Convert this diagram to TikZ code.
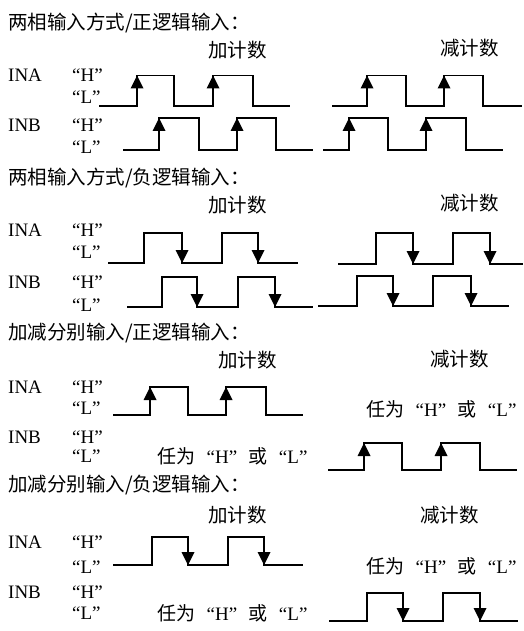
\documentclass[tikz,border=0pt]{standalone}
\usepackage{fontspec}
\setmainfont{Liberation Serif}
\newfontfamily\cjk{Noto Sans CJK SC}
\newcommand{\sqwv}[8]{\draw[wave] (#1,#7) -- (#2,#7) -- (#2,#8) -- (#3,#8) -- (#3,#7) -- (#4,#7) -- (#4,#8) -- (#5,#8) -- (#5,#7) -- (#6,#7);}
\newcommand{\anyHL}{{\cjk 任为}\hspace{0.6em}“H”\hspace{0.6em}{\cjk 或}\hspace{0.6em}“L”}
\begin{document}
\begin{tikzpicture}[x=1bp,y=-1bp,
  lbl/.style={anchor=west,inner sep=0pt,font=\fontsize{19bp}{22bp}\selectfont},
  zh/.style={anchor=west,inner sep=0pt,font=\fontsize{19.5bp}{22bp}\selectfont\cjk},
  wave/.style={line width=1.3bp,line join=miter},
  upa/.pic={\fill (0,0) -- (-6.5,13) -- (6.5,13) -- cycle;},
  dna/.pic={\fill (0,0) -- (-6.5,-13) -- (6.5,-13) -- cycle;}]
\useasboundingbox (0,0) rectangle (524,631);
% ---------- section 1 ----------
\node[zh] (t1) at (8,22.5) {两相输入方式/正逻辑输入：};
\node[zh] (p1) at (208,50) {加计数};
\node[zh] (m1) at (440,48) {减计数};
\node[lbl] (a1) at (8,75) {INA};
\node[lbl] (a1h) at (72,75) {“H”};
\node[lbl] (a1l) at (72,97) {“L”};
\node[lbl] (b1) at (8,125) {INB};
\node[lbl] (b1h) at (72,125) {“H”};
\node[lbl] (b1l) at (72,147) {“L”};
\sqwv{99}{137}{174}{213}{253}{290}{106}{75.5}
\pic at (137,75.5) {upa}; \pic at (213,75.5) {upa};
\sqwv{123}{159}{199}{237}{276}{313}{150}{118}
\pic at (159,118) {upa}; \pic at (237,118) {upa};
\sqwv{332}{367}{406}{444}{483}{522}{106}{75.5}
\pic at (367,75.5) {upa}; \pic at (444,75.5) {upa};
\sqwv{323}{349}{388}{426}{466}{503}{150}{118}
\pic at (349,118) {upa}; \pic at (426,118) {upa};
% ---------- section 2 ----------
\node[zh] (t2) at (8,178) {两相输入方式/负逻辑输入：};
\node[zh] (p2) at (208,205) {加计数};
\node[zh] (m2) at (440,203) {减计数};
\node[lbl] (a2) at (8,230) {INA};
\node[lbl] (a2h) at (72,230) {“H”};
\node[lbl] (a2l) at (72,252) {“L”};
\node[lbl] (b2) at (8,282) {INB};
\node[lbl] (b2h) at (72,282) {“H”};
\node[lbl] (b2l) at (72,305) {“L”};
\sqwv{108}{144}{182}{222}{258}{298}{263}{233}
\pic at (182,263) {dna}; \pic at (258,263) {dna};
\sqwv{127}{162}{197}{238}{275}{313}{307}{277}
\pic at (197,307) {dna}; \pic at (275,307) {dna};
\sqwv{338}{376}{413}{453}{490}{523}{264}{233}
\pic at (413,264) {dna}; \pic at (490,264) {dna};
\sqwv{318}{357}{393}{433}{471}{509}{306}{276}
\pic at (393,306) {dna}; \pic at (471,306) {dna};
% ---------- section 3 ----------
\node[zh] (t3) at (8,333) {加减分别输入/正逻辑输入：};
\node[zh] (p3) at (218,360) {加计数};
\node[zh] (m3) at (430,359) {减计数};
\node[lbl] (a3) at (8,387) {INA};
\node[lbl] (a3h) at (72,387) {“H”};
\node[lbl] (a3l) at (72,408) {“L”};
\node[lbl] (b3) at (8,437) {INB};
\node[lbl] (b3h) at (72,437) {“H”};
\node[lbl] (b3l) at (72,456) {“L”};
\sqwv{113}{150}{188}{226}{266}{303}{415}{387}
\pic at (150,387) {upa}; \pic at (226,387) {upa};
\node[lbl] (x3a) at (366,409) {\anyHL};
\node[lbl] (x3b) at (157,456) {\anyHL};
\sqwv{328}{364}{402}{441}{480}{517}{470}{443}
\pic at (364,443) {upa}; \pic at (441,443) {upa};
% ---------- section 4 ----------
\node[zh] (t4) at (8,485) {加减分别输入/负逻辑输入：};
\node[zh] (p4) at (208,515) {加计数};
\node[zh] (m4) at (420,515) {减计数};
\node[lbl] (a4) at (8,542) {INA};
\node[lbl] (a4h) at (72,542) {“H”};
\node[lbl] (a4l) at (72,567) {“L”};
\node[lbl] (b4) at (8,592) {INB};
\node[lbl] (b4h) at (72,592) {“H”};
\node[lbl] (b4l) at (72,613) {“L”};
\sqwv{113}{152}{188}{228}{264}{303}{565}{537}
\pic at (188,565) {dna}; \pic at (264,565) {dna};
\node[lbl] (x4a) at (366,566) {\anyHL};
\node[lbl] (x4b) at (157,613) {\anyHL};
\sqwv{329}{367}{403}{443}{480}{518}{621}{593}
\pic at (403,621) {dna}; \pic at (480,621) {dna};
\end{tikzpicture}
\end{document}
